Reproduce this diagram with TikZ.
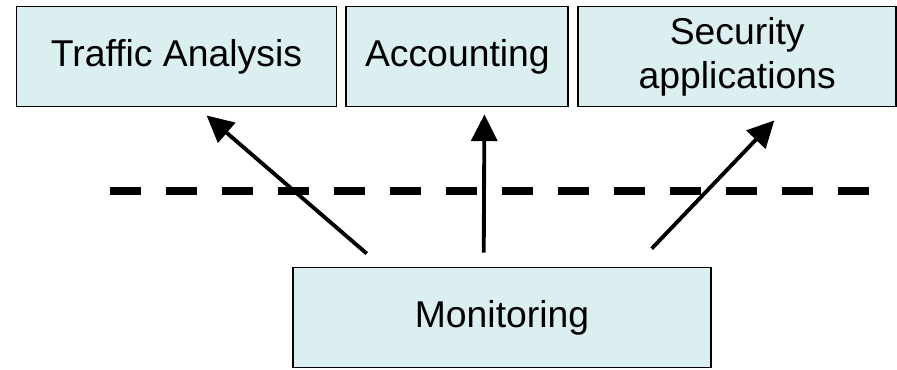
\documentclass[tikz,border=0pt]{standalone}
\usepackage{fontspec}
\setmainfont{Liberation Sans}
\definecolor{boxfill}{RGB}{219,238,240}
\usetikzlibrary{arrows.meta,positioning,calc}

\begin{document}
\begin{tikzpicture}[x=0.75pt,y=-0.75pt,node distance=6pt,
    box/.style={draw=black,line width=1.4pt,fill=boxfill,minimum height=75pt,inner sep=0pt,align=center,font=\fontsize{28}{33}\selectfont},
    arr/.style={-{Triangle[length=20pt,width=19.5pt]},line width=2.9pt},
    sep/.style={line width=6pt,dash pattern=on 23.25pt off 18.75pt}]
    \useasboundingbox (0,0) rectangle (897,369);
    \node[box,minimum width=240pt] (traffic) at (176.5,56.5) {Traffic Analysis};
    \node[box,minimum width=166.5pt,right=of traffic] (accounting) {Accounting};
    \node[box,minimum width=238.5pt,right=of accounting] (security) {Security\\applications};
    \node[box,minimum width=314pt] (monitor) at (502,317.5) {Monitoring};
    \coordinate (sepL) at (110,191); \coordinate (sepR) at (869,191);
    \draw[sep] (sepL)--(sepR);
    \draw[arr] ($(monitor.north west)+(75,-13)$)--($(traffic.south west)+(191,8)$);
    \draw[arr] ($(monitor.north west)+(192,-14)$)--($(accounting.south west)+(139,7)$);
    \draw[arr] ($(monitor.north west)+(360,-18)$)--($(security.south west)+(197,13)$);
  \end{tikzpicture}
\end{document}
